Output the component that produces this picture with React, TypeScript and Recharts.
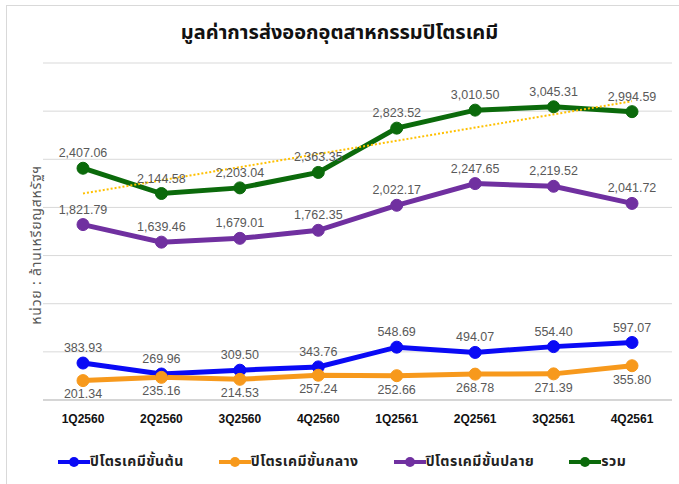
import {
  LineChart,
  Line,
  XAxis,
  YAxis,
  CartesianGrid,
  LabelList,
  ReferenceLine,
} from "recharts";

const quarters = ["1Q2560", "2Q2560", "3Q2560", "4Q2560", "1Q2561", "2Q2561", "3Q2561", "4Q2561"];
const upstream = [383.93, 269.96, 309.5, 343.76, 548.69, 494.07, 554.4, 597.07];
const intermediate = [201.34, 235.16, 214.53, 257.24, 252.66, 268.78, 271.39, 355.8];
const downstream = [1821.79, 1639.46, 1679.01, 1762.35, 2022.17, 2247.65, 2219.52, 2041.72];
const total = [2407.06, 2144.58, 2203.04, 2363.35, 2823.52, 3010.5, 3045.31, 2994.59];
// linear trend of total at first and last quarter
const trendStart = 2145;
const trendEnd = 3103;
const yTicks = [0, 500, 1000, 1500, 2000, 2500, 3000, 3500];

const series = [
  { key: "upstream", name: "ปิโตรเคมีขั้นต้น", color: "#0a0af5", labelPos: "top" },
  { key: "intermediate", name: "ปิโตรเคมีขั้นกลาง", color: "#f7991c", labelPos: "bottom" },
  { key: "downstream", name: "ปิโตรเคมีขั้นปลาย", color: "#7030a0", labelPos: "top" },
  { key: "total", name: "รวม", color: "#0b6a0b", labelPos: "top" },
];

const data = quarters.map((q, i) => ({
  quarter: q,
  upstream: upstream[i],
  intermediate: intermediate[i],
  downstream: downstream[i],
  total: total[i],
}));

const fmt = (v: any) =>
  Number(v).toLocaleString("en-US", { minimumFractionDigits: 2, maximumFractionDigits: 2 });

const thaiFont = "'Noto Sans Thai', 'Noto Sans', 'DejaVu Sans', sans-serif";

const App = () => {
  return (
    <div
      style={{
        position: "absolute",
        left: 0,
        top: 0,
        width: 679,
        height: 484,
        background: "#fff",
        overflow: "hidden",
        fontFamily: "'Liberation Sans', Arial, sans-serif",
      }}
    >
      <div
        style={{
          position: "absolute",
          left: 6,
          top: 5,
          width: 680,
          height: 490,
          border: "1px solid #d9d9d9",
          boxSizing: "border-box",
        }}
      />
      <div
        style={{
          position: "absolute",
          left: 0,
          width: 679,
          top: 18,
          textAlign: "center",
          fontSize: 20,
          fontWeight: "bold",
          fontFamily: thaiFont,
          color: "#111",
        }}
      >
        มูลค่าการส่งออกอุตสาหกรรมปิโตรเคมี
      </div>
      <div
        style={{
          position: "absolute",
          left: 36,
          top: 245,
          transform: "translate(-50%, -50%) rotate(-90deg)",
          whiteSpace: "nowrap",
          fontSize: 14,
          letterSpacing: 0.8,
          fontFamily: thaiFont,
          color: "#595959",
        }}
      >
        หน่วย : ล้านเหรียญสหรัฐฯ
      </div>

      <LineChart
        width={679}
        height={484}
        data={data}
        margin={{ top: 63, right: 7, left: 43, bottom: 54 }}
        style={{ position: "absolute", left: 0, top: 0 }}
      >
        <CartesianGrid vertical={false} stroke="#d9d9d9" />
        <XAxis
          dataKey="quarter"
          height={30}
          padding={{ left: 40, right: 40 }}
          axisLine={{ stroke: "#bfbfbf" }}
          tickLine={false}
          tick={{ fill: "#111", fontSize: 12, fontWeight: "bold" }}
          tickMargin={8}
        />
        <YAxis hide domain={[0, 3500]} ticks={yTicks} />
        {series.map((s) => (
          <Line
            key={s.key}
            dataKey={s.key}
            name={s.name}
            stroke={s.color}
            strokeWidth={5}
            dot={{ r: 6, fill: s.color, stroke: s.color, strokeWidth: 1 }}
            isAnimationActive={false}
          >
            <LabelList
              dataKey={s.key}
              position={s.labelPos as any}
              offset={s.labelPos === "top" ? 11 : 9}
              formatter={fmt}
              style={{ fill: "#595959", fontSize: 12.5 }}
            />
          </Line>
        ))}
        <ReferenceLine
          segment={[
            { x: quarters[0], y: trendStart },
            { x: quarters[quarters.length - 1], y: trendEnd },
          ]}
          stroke="#ffc000"
          strokeWidth={2}
          strokeDasharray="2 2"
        />
      </LineChart>

      <div
        style={{
          position: "absolute",
          top: 451,
          left: 58,
          display: "flex",
          gap: 35,
          fontFamily: thaiFont,
          fontSize: 14,
          letterSpacing: 0.5,
          fontWeight: "bold",
          color: "#222",
          whiteSpace: "nowrap",
        }}
      >
        {series.map((s) => (
          <div key={s.key} style={{ display: "flex", alignItems: "center" }}>
            <svg width={32} height={14}>
              <line x1={0} y1={7} x2={32} y2={7} stroke={s.color} strokeWidth={4} />
              <circle cx={16} cy={7} r={5} fill={s.color} />
            </svg>
            <span>{s.name}</span>
          </div>
        ))}
      </div>
    </div>
  );
};

export default App;
